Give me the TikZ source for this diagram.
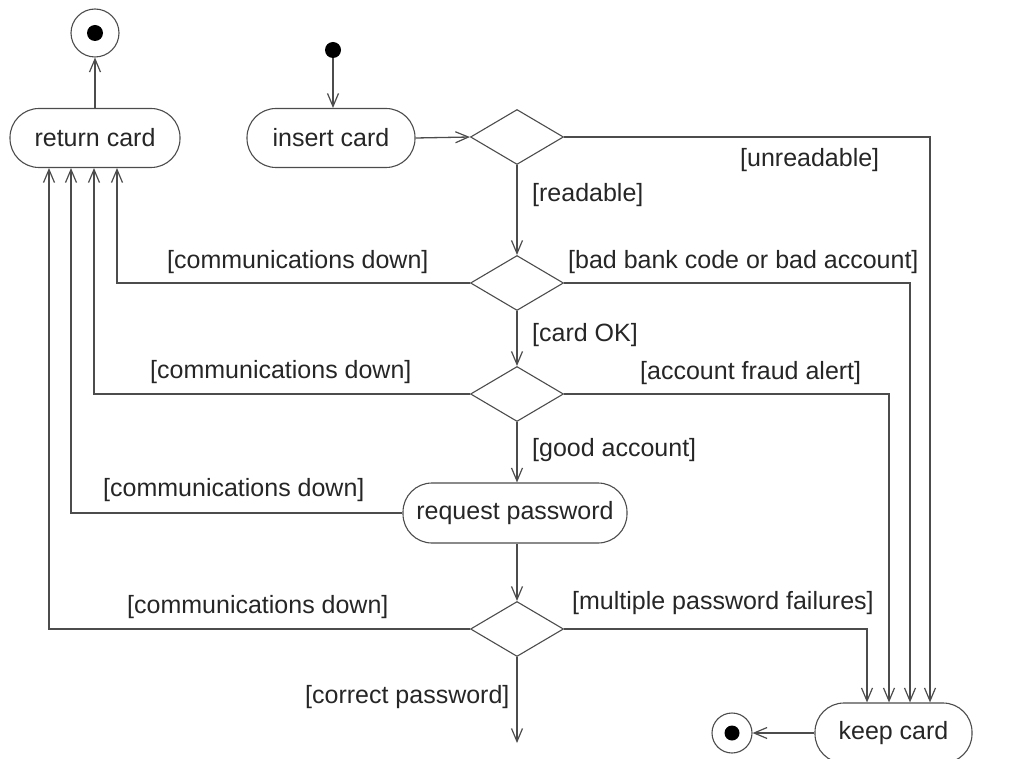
\documentclass[tikz,border=0pt]{standalone}
\usepackage{fontspec}
\setmainfont{Liberation Sans}
\usetikzlibrary{arrows.meta,shapes.geometric}
\begin{document}
\begin{tikzpicture}[x=1pt,y=-1pt,
  every node/.style={font=\fontsize{25}{30}\selectfont, text=black!85},
  ln/.style={draw=black!70, line width=1.3pt},
  arr/.style={ln, -{Straight Barb[length=13pt,width=11pt,line width=1.2pt]}},
  act/.style={draw=black!70, line width=1.1pt, rectangle, rounded corners=29pt, inner sep=0pt},
  dec/.style={draw=black!70, line width=1.1pt, diamond, minimum width=93pt, minimum height=55pt, inner sep=0pt},
  finout/.style={draw=black!70, line width=1.1pt, circle, inner sep=0pt},
  dot/.style={fill=black, circle, inner sep=0pt},
  lbl/.style={inner sep=0pt, anchor=west}
]
\useasboundingbox (0,0) rectangle (1014,759);

% final states
\node[finout, minimum size=48pt] (fin1) at (95,33) {};
\node[dot, minimum size=16pt] (fin1i) at (fin1) {};
\node[finout, minimum size=40pt] (fin2) at (732,733) {};
\node[dot, minimum size=15pt] (fin2i) at (fin2) {};

% start
\node[dot, minimum size=16pt] (start) at (333,50) {};

% activities
\node[act, minimum width=170pt, minimum height=59pt] (retc) at (95,138) {return card};
\node[act, minimum width=168pt, minimum height=59pt] (ins) at (331,138) {insert card};
\node[act, minimum width=224pt, minimum height=60pt] (rp) at (515,513) {request password};
\node[act, minimum width=157pt, minimum height=60pt] (keep) at (893.5,733) {keep card};

% decisions
\node[dec] (d1) at (517,137) {};
\node[dec] (d2) at (517,283) {};
\node[dec] (d3) at (517,394) {};
\node[dec] (d4) at (517,629) {};

\coordinate (endp) at (517,743);

% connectors
\draw[arr] (retc.north) -- (fin1.south);
\draw[arr] (start.south) -- (start.south |- ins.north);
\draw[arr] (ins.east) -- (d1.west);
\draw[arr] (d1.east) -| ([xshift=36.5pt]keep.north);
\draw[arr] (d1.south) -- (d2.north);
\draw[arr] (d2.west) -| ([xshift=22pt]retc.south);
\draw[arr] (d2.east) -| ([xshift=16.5pt]keep.north);
\draw[arr] (d2.south) -- (d3.north);
\draw[arr] (d3.west) -| ([xshift=-1pt]retc.south);
\draw[arr] (d3.east) -| ([xshift=-4.5pt]keep.north);
\draw[arr] (d3.south) -- (d3.south |- rp.north);
\draw[arr] (rp.west) -| ([xshift=-24pt]retc.south);
\draw[arr] (d4.north |- rp.south) -- (d4.north);
\draw[arr] (d4.west) -| ([xshift=-46pt]retc.south);
\draw[arr] (d4.east) -| ([xshift=-26.5pt]keep.north);
\draw[arr] (d4.south) -- (endp);
\draw[arr] (keep.west) -- (fin2.east);

% guards
\node[lbl] (l1) at (740,160) {[unreadable]};
\node[lbl] (l2) at (532,195) {[readable]};
\node[lbl] (l3) at (167,262) {[communications down]};
\node[lbl] (l4) at (568,262) {[bad bank code or bad account]};
\node[lbl] (l5) at (532,335) {[card OK]};
\node[lbl] (l6) at (150,372) {[communications down]};
\node[lbl] (l7) at (640,373) {[account fraud alert]};
\node[lbl] (l8) at (532,450) {[good account]};
\node[lbl] (l9) at (103,490) {[communications down]};
\node[lbl] (l10) at (127,607) {[communications down]};
\node[lbl] (l11) at (572,603) {[multiple password failures]};
\node[lbl] (l12) at (305,697) {[correct password]};
\end{tikzpicture}
\end{document}
